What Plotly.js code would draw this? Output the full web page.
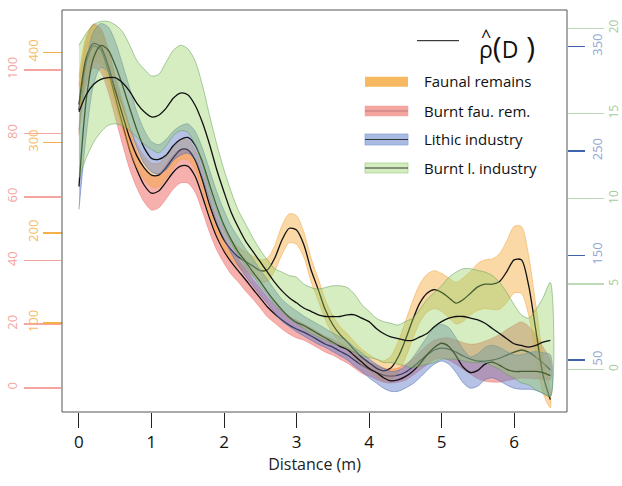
<!DOCTYPE html>
<html><head><meta charset="utf-8">
<script src="https://cdn.plot.ly/plotly-3.0.1.min.js"></script>
<style>body{margin:0;background:#fff}#c{width:622px;height:486px}</style>
</head><body><div id="c"></div>
<script>
const xs = [0,0.1,0.2,0.3,0.4,0.5,0.6,0.7,0.8,0.9,1,1.1,1.2,1.3,1.4,1.5,1.6,1.7,1.8,1.9,2,2.1,2.2,2.3,2.4,2.5,2.6,2.7,2.8,2.9,3,3.1,3.2,3.3,3.4,3.5,3.6,3.7,3.8,3.9,4,4.1,4.2,4.3,4.4,4.5,4.6,4.7,4.8,4.9,5,5.1,5.2,5.3,5.4,5.5,5.6,5.7,5.8,5.9,6,6.1,6.2,6.3,6.4,6.5];

// Faunal remains (left orange axis)
const faunalMid = [342,394,410,406,386,358,331,305,285,272,264,264,272,283,292,292,281,259,231,209,192,181,173,168,163,158,159,172,192,205,203,187,159,137,114,98,87,79,70,62,56,50,47,50,62,81,103,122,133,137,134,128,122,126,133,140,143,143,146,157,170,170,142,92,42,15];
const faunalHi = [373,418,430,425,404,375,347,319,298,285,277,277,284,294,303,303,292,270,242,220,203,192,184,179,174,170,172,186,208,221,219,201,172,149,125,108,96,88,79,71,65,60,58,63,79,101,124,143,154,158,155,150,145,150,157,166,170,171,177,191,207,207,175,120,62,24];
const faunalLo = [311,370,390,387,368,341,315,291,272,259,251,251,260,272,281,281,270,248,220,198,181,170,162,157,152,146,146,158,176,189,187,173,146,125,103,88,78,70,61,53,47,40,36,37,45,61,82,101,112,116,113,106,99,102,109,114,116,115,115,123,133,133,109,64,22,6];

// Burnt faunal remains (left pink axis)
const burntFauMid = [87.3,102.4,107.5,106.2,99.9,91.4,82.9,74.7,68.5,63.7,61.2,61.9,64.7,67.8,69.7,69.7,66.6,60.3,53.4,47.4,43.0,39.5,36.7,33.9,31.0,28.2,25.4,23.2,21.3,19.7,18.5,17.5,16.3,15.0,13.7,12.8,11.5,10.3,8.7,7.1,5.9,4.9,4.0,3.7,4.0,4.9,6.5,8.4,10.3,11.9,12.5,12.2,11.2,10.0,9.0,8.4,8.4,8.7,9.3,10.3,11.2,11.9,11.2,9.7,7.8,5.6];
const burntFauHi = [95.2,109.3,114.4,113.1,106.5,97.7,89.2,80.7,74.2,69.0,66.5,67.2,70.0,73.1,75.0,75.0,71.6,65.0,57.8,51.5,46.8,43.3,40.2,37.4,34.1,31.3,28.5,26.0,24.1,22.5,21.3,20.0,18.8,17.5,16.2,15.3,14.0,12.8,11.2,9.6,8.1,7.1,6.2,5.9,6.2,7.4,9.1,11.2,13.3,15.0,15.6,15.7,15.0,14.2,13.7,13.9,14.7,15.6,16.8,18.3,19.7,20.7,19.4,16.6,12.8,8.7];
const burntFauLo = [79.4,95.5,100.6,99.3,93.3,85.1,76.6,68.7,62.8,58.4,55.9,56.6,59.4,62.5,64.4,64.4,61.6,55.6,49.0,43.3,39.2,35.7,33.2,30.4,27.9,25.1,22.3,20.4,18.5,16.9,15.7,15.0,13.8,12.5,11.2,10.3,9.0,7.8,6.2,4.6,3.7,2.7,1.8,1.5,1.8,2.4,3.9,5.6,7.3,8.8,9.4,8.7,7.4,5.8,4.3,2.9,2.1,1.8,1.8,2.3,2.7,3.1,3.0,2.8,2.8,2.5];

// Lithic industry (right blue axis)
const lithicMid = [216,299,339,351,347,332,313,291,270,253,243,242,246,255,261,263,256,240,218,197,179,165,153,144,134,125,115,106,98,91,86,83,79,75,71,67,63,60,54,48,42,38,33,30,31,34,39,46,55,62,66,63,54,43,38,40,46,48,45,41,39,39,39,39,38,35];
const lithicHi = [270,335,364,372,369,355,333,310,287,270,259,256,261,269,274,276,269,253,232,211,193,178,167,156,147,136,127,117,108,102,97,92,88,84,80,76,72,68,62,57,51,46,42,39,40,44,52,62,72,81,84,81,71,60,53,56,62,64,62,58,55,55,57,58,57,55];
const lithicLo = [194,265,313,330,326,310,293,272,253,238,230,228,232,241,246,248,242,225,203,182,166,152,140,130,121,112,104,95,87,82,77,73,69,65,62,58,54,50,44,39,33,28,23,20,20,23,27,33,40,46,49,46,38,28,23,25,31,33,30,26,23,22,22,21,18,15];

// Burnt lithic industry (right green axis)
const burntLitMid = [15.1,16.1,16.7,17.0,17.1,17.1,16.8,16.3,15.6,15.1,14.8,14.9,15.3,15.9,16.2,16.1,15.5,14.5,13.2,11.7,10.4,9.2,8.3,7.5,6.9,6.3,5.7,5.1,4.6,4.2,3.9,3.6,3.4,3.2,3.1,3.1,3.1,3.2,3.2,3.0,2.8,2.4,2.1,1.9,1.8,1.7,1.7,1.9,2.1,2.5,2.8,3.0,3.1,3.1,3.0,2.9,2.7,2.4,2.1,1.8,1.5,1.4,1.3,1.4,1.6,1.7];
const burntLitHi = [19.0,19.7,20.2,20.4,20.4,20.2,19.8,19.0,18.1,17.6,17.2,17.3,18.0,18.7,19.0,18.8,18.1,16.7,14.9,13.2,11.7,10.4,9.3,8.5,7.7,7.0,6.4,5.9,5.7,5.5,5.4,5.0,4.8,4.7,4.8,4.9,4.9,4.8,4.4,3.8,3.4,3.0,2.8,2.7,2.6,2.8,3.0,3.5,4.1,4.5,4.9,5.4,5.7,5.9,5.9,5.8,5.7,5.5,5.1,4.5,3.8,3.2,3.0,3.5,4.2,5.1];
const burntLitLo = [11.2,12.4,13.3,13.9,14.3,14.4,14.3,14.0,13.6,13.2,12.9,12.7,13.1,13.7,14.0,13.9,13.2,12.0,10.5,9.3,8.3,7.4,6.7,6.1,5.5,4.9,4.4,3.8,3.4,3.0,2.7,2.4,2.1,1.9,1.7,1.5,1.4,1.2,1.0,0.8,0.7,0.6,0.4,0.4,0.3,0.2,0.1,0.2,0.3,0.4,0.6,0.6,0.6,0.5,0.4,0.4,0.4,0.2,0.0,-0.3,-0.5,-0.8,-0.9,-1.2,-1.4,-1.6];

const xTicks = [0,1,2,3,4,5,6];
const pinkTicks = [0,20,40,60,80,100];
const orangeTicks = [100,200,300,400];
const blueTicks = [50,150,250,350];
const greenTicks = [0,5,10,15,20];
const seriesNames = ['Faunal remains','Burnt fau. rem.','Lithic industry','Burnt l. industry'];

const series = [
  {mid:burntLitMid, hi:burntLitHi, lo:burntLitLo, ax:'y4', fill:'rgba(150,210,100,0.40)', edge:'rgba(90,150,80,0.55)'},
  {mid:faunalMid, hi:faunalHi, lo:faunalLo, ax:'y2', fill:'rgba(245,165,45,0.42)', edge:'rgba(240,160,60,0.55)'},
  {mid:burntFauMid, hi:burntFauHi, lo:burntFauLo, ax:'y', fill:'rgba(238,100,95,0.50)', edge:'rgba(235,120,115,0.6)'},
  {mid:lithicMid, hi:lithicHi, lo:lithicLo, ax:'y3', fill:'rgba(90,120,200,0.45)', edge:'rgba(70,100,170,0.55)'}
];

const traces = [];
series.forEach(s => {
  traces.push({x: xs.concat(xs.slice().reverse()), y: s.hi.concat(s.lo.slice().reverse()),
    yaxis: s.ax, type:'scatter', mode:'lines', fill:'toself', fillcolor: s.fill,
    line:{color:s.edge, width:0.9, shape:'spline', smoothing:0.8}, hoverinfo:'skip'});
});
series.forEach(s => {
  traces.push({x: xs, y: s.mid, yaxis: s.ax, type:'scatter', mode:'lines',
    line:{color:'#111', width:1.3, shape:'spline', smoothing:0.8}, hoverinfo:'skip'});
});

const F = 'Open Sans, Noto Sans, sans-serif';
const P = (px) => (px - 62) / 505;
const Q = (py) => (412 - py) / 402;

const baseY = {showgrid:false, zeroline:false, showline:false, ticks:'outside', tickangle:-90, fixedrange:true};
const layout = {
  width:622, height:486, margin:{l:62, r:55, t:10, b:74},
  paper_bgcolor:'#fff', plot_bgcolor:'#fff', showlegend:false,
  font:{family:F},
  xaxis:{range:[-0.234, 6.73], tickvals:xTicks, ticks:'outside', ticklen:15, tickcolor:'#222', tickwidth:1,
    showgrid:false, zeroline:false, showline:false, tickfont:{size:17, color:'#111', family:F},
    title:{text:'Distance (m)', font:{size:16, color:'#222', family:F}, standoff:4}},
  yaxis: Object.assign({}, baseY, {range:[-7.6,118.8], tickvals:pinkTicks, ticklen:37, tickcolor:'#F4A5A0', tickwidth:1.5,
    tickfont:{size:13, color:'#F4A5A0', family:F}, ticklabelstandoff:2}),
  yaxis2: Object.assign({}, baseY, {overlaying:'y', anchor:'free', position:0, side:'left', range:[1.3,447],
    tickvals:orangeTicks, ticklen:19, tickcolor:'#F6B04A', tickwidth:1.5, tickfont:{size:13, color:'#F7BA62', family:F}, ticklabelstandoff:0}),
  yaxis3: Object.assign({}, baseY, {overlaying:'y', anchor:'free', position:1, side:'right', range:[0.2,385],
    tickvals:blueTicks, ticklen:17, tickcolor:'#3E64AE', tickwidth:1.5, tickfont:{size:13, color:'#8FA6D3', family:F}, ticklabelstandoff:1}),
  yaxis4: Object.assign({}, baseY, {overlaying:'y', anchor:'free', position:1, side:'right', range:[-2.5,21.07],
    tickvals:greenTicks, ticklen:36, tickcolor:'#BBDAB5', tickwidth:1.2, tickfont:{size:12, color:'#A3CC9D', family:F}, ticklabelstandoff:0}),
  shapes:[
    {type:'rect', xref:'paper', yref:'paper', x0:0, x1:1, y0:0, y1:1, line:{color:'#555', width:1}},
    {type:'line', xref:'paper', yref:'paper', x0:P(417), x1:P(459), y0:Q(40.7), y1:Q(40.7), line:{color:'#111', width:1}},
    {type:'rect', xref:'paper', yref:'paper', x0:P(365), x1:P(408), y0:Q(86.7), y1:Q(76.7), fillcolor:'#F6B860', line:{color:'#F6B860', width:0}},
    {type:'rect', xref:'paper', yref:'paper', x0:P(365), x1:P(408), y0:Q(116), y1:Q(106), fillcolor:'#F5A5A0', line:{color:'#F0A09A', width:0.5}},
    {type:'line', xref:'paper', yref:'paper', x0:P(365), x1:P(408), y0:Q(111), y1:Q(111), line:{color:'rgba(60,30,30,0.5)', width:0.6}},
    {type:'rect', xref:'paper', yref:'paper', x0:P(365), x1:P(408), y0:Q(145), y1:Q(134), fillcolor:'#A8BBE3', line:{color:'#8EA3D4', width:0.8}},
    {type:'line', xref:'paper', yref:'paper', x0:P(365), x1:P(408), y0:Q(139.5), y1:Q(139.5), line:{color:'#333', width:1}},
    {type:'rect', xref:'paper', yref:'paper', x0:P(365), x1:P(408), y0:Q(173), y1:Q(163), fillcolor:'#D3EDBE', line:{color:'#A9CF9A', width:0.8}},
    {type:'line', xref:'paper', yref:'paper', x0:P(365), x1:P(408), y0:Q(168), y1:Q(168), line:{color:'#333', width:1}}
  ],
  annotations:[
    {xref:'paper', yref:'paper', x:P(477), y:Q(46), xanchor:'left', yanchor:'middle', showarrow:false,
      text:'ρ<span style="font-size:30px">(</span>D<span style="font-size:30px"> )</span>', font:{size:23, color:'#111', family:F}},
    {xref:'paper', yref:'paper', x:P(486), y:Q(36), xanchor:'center', yanchor:'middle', showarrow:false,
      text:'^', font:{size:18, color:'#111', family:F}},
    {xref:'paper', yref:'paper', x:P(422), y:Q(81), xanchor:'left', yanchor:'middle', showarrow:false, text:seriesNames[0], font:{size:15, color:'#111', family:F}},
    {xref:'paper', yref:'paper', x:P(422), y:Q(111), xanchor:'left', yanchor:'middle', showarrow:false, text:seriesNames[1], font:{size:15, color:'#111', family:F}},
    {xref:'paper', yref:'paper', x:P(422), y:Q(139.5), xanchor:'left', yanchor:'middle', showarrow:false, text:seriesNames[2], font:{size:15, color:'#111', family:F}},
    {xref:'paper', yref:'paper', x:P(422), y:Q(168), xanchor:'left', yanchor:'middle', showarrow:false, text:seriesNames[3], font:{size:15, color:'#111', family:F}}
  ]
};
Plotly.newPlot('c', traces, layout, {staticPlot:true, displayModeBar:false});
</script></body></html>
